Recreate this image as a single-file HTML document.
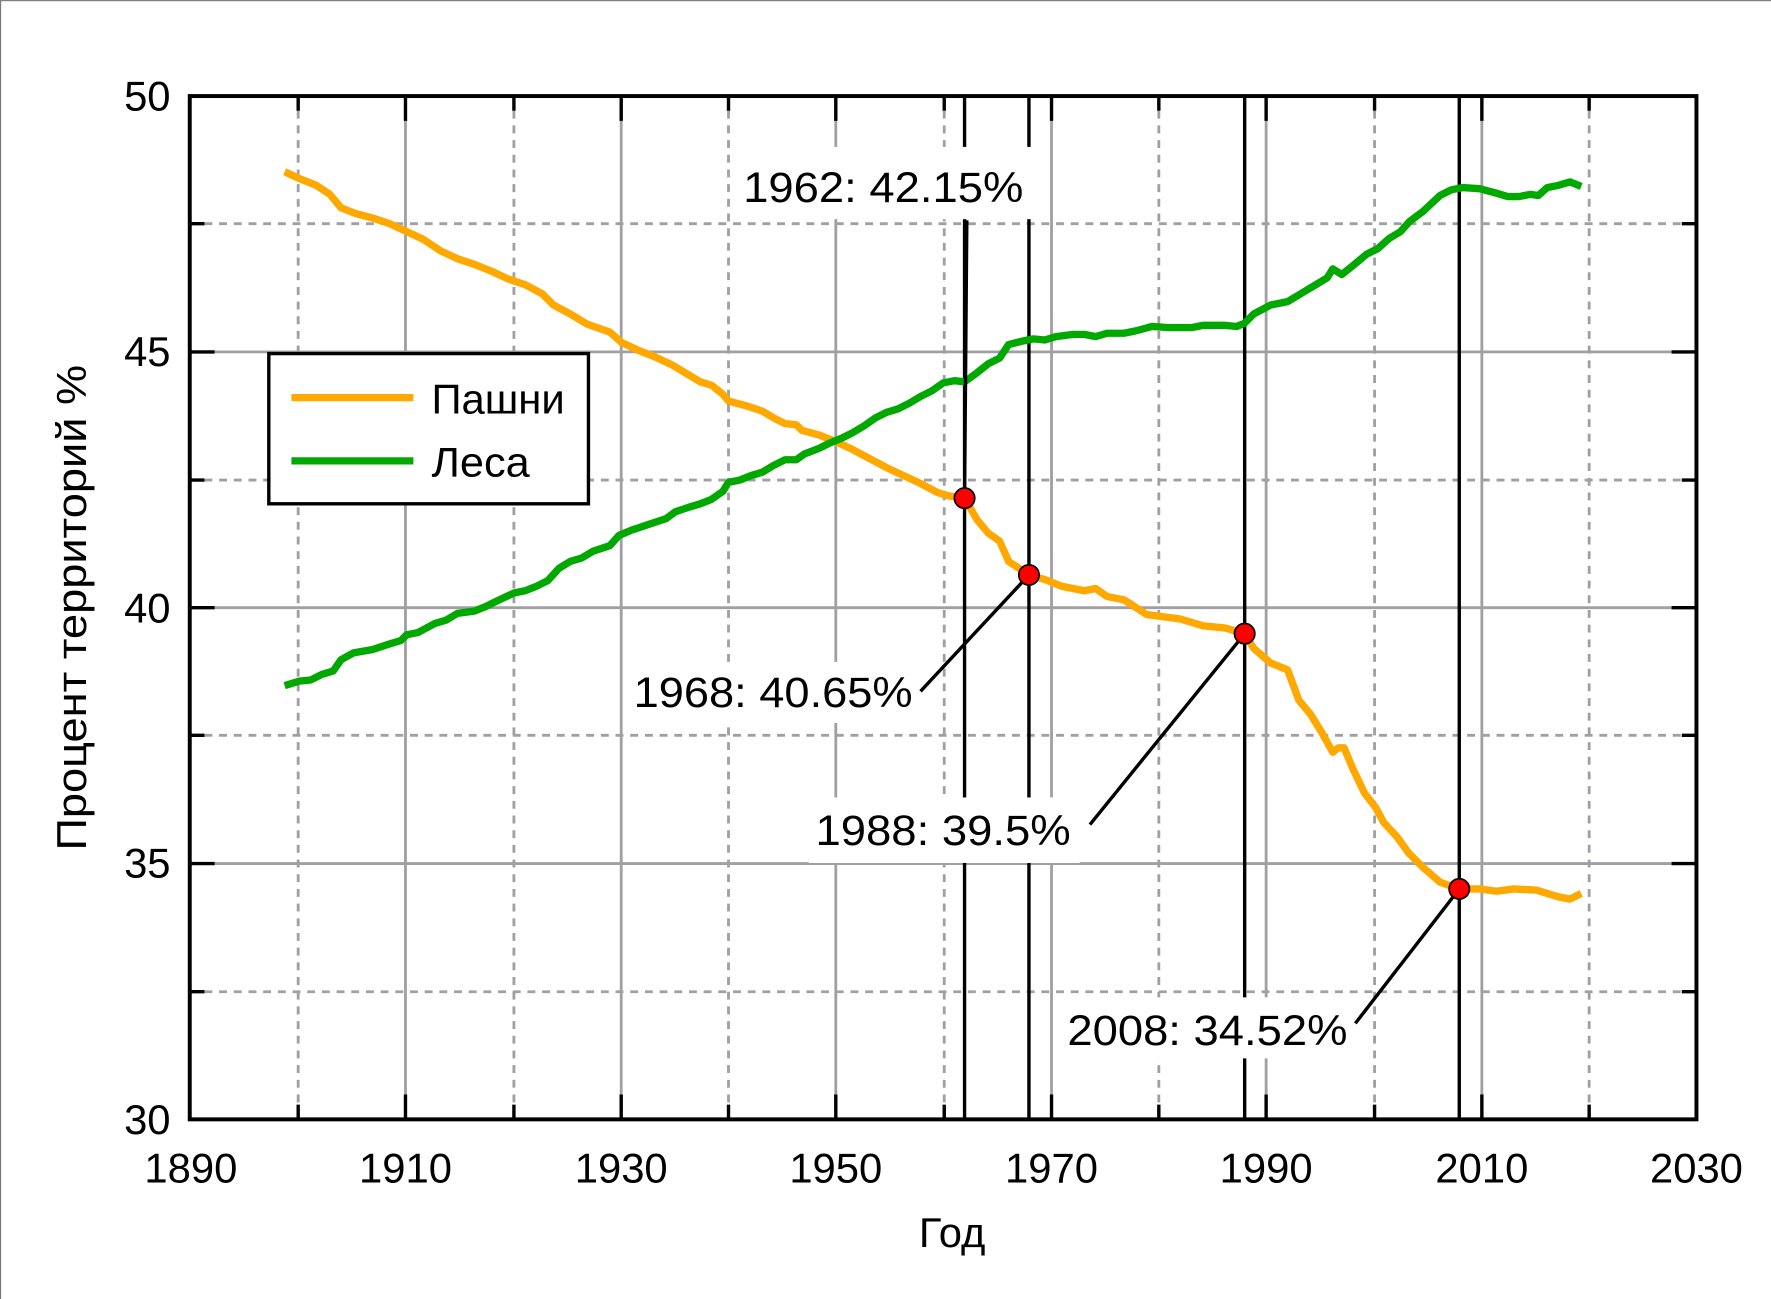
<!DOCTYPE html>
<html><head><meta charset="utf-8"><style>html,body{margin:0;padding:0;background:#fff}svg{display:block}</style></head>
<body>
<svg width="1771" height="1299" viewBox="0 0 1568 1150" xmlns="http://www.w3.org/2000/svg" font-family="Liberation Sans, DejaVu Sans, sans-serif">
<rect x="0.5" y="0.5" width="1580" height="1160" fill="#fff" stroke="#777" stroke-width="1"/>
<g stroke="#a0a0a4" stroke-width="2.5">
<line x1="359" y1="85" x2="359" y2="991"/><line x1="550" y1="85" x2="550" y2="991"/>
<line x1="740" y1="85" x2="740" y2="991"/><line x1="931" y1="85" x2="931" y2="991"/>
<line x1="1121" y1="85" x2="1121" y2="991"/><line x1="1312" y1="85" x2="1312" y2="991"/>
<line x1="168" y1="311.5" x2="1502" y2="311.5"/><line x1="168" y1="538" x2="1502" y2="538"/><line x1="168" y1="764.5" x2="1502" y2="764.5"/>
</g>
<g stroke="#a0a0a4" stroke-width="2.5" stroke-dasharray="7,6">
<line x1="264" y1="85" x2="264" y2="991"/><line x1="455" y1="85" x2="455" y2="991"/>
<line x1="645" y1="85" x2="645" y2="991"/><line x1="836" y1="85" x2="836" y2="991"/>
<line x1="1026" y1="85" x2="1026" y2="991"/><line x1="1217" y1="85" x2="1217" y2="991"/>
<line x1="1407" y1="85" x2="1407" y2="991"/>
<line x1="168" y1="198" x2="1502" y2="198"/><line x1="168" y1="425" x2="1502" y2="425"/>
<line x1="168" y1="651" x2="1502" y2="651"/><line x1="168" y1="878" x2="1502" y2="878"/>
</g>
<g stroke="#000" stroke-width="3">
<path d="M359 85v22M550 85v22M740 85v22M931 85v22M1121 85v22M1312 85v22M264 85v13M455 85v13M645 85v13M836 85v13M1026 85v13M1217 85v13M1407 85v13"/>
<path d="M359 991v-22M550 991v-22M740 991v-22M931 991v-22M1121 991v-22M1312 991v-22M264 991v-13M455 991v-13M645 991v-13M836 991v-13M1026 991v-13M1217 991v-13M1407 991v-13"/>
<path d="M168 311.5h22M168 538h22M168 764.5h22M168 198h13M168 425h13M168 651h13M168 878h13"/>
<path d="M1502 311.5h-22M1502 538h-22M1502 764.5h-22M1502 198h-13M1502 425h-13M1502 651h-13M1502 878h-13"/>
</g>
<g stroke="#000" stroke-width="3">
<line x1="854" y1="85" x2="854" y2="991"/><line x1="911" y1="85" x2="911" y2="991"/>
<line x1="1102" y1="85" x2="1102" y2="991"/><line x1="1292" y1="85" x2="1292" y2="991"/>
</g>
<polyline fill="none" stroke="#ffa800" stroke-width="6.5" stroke-linejoin="round" points="252,152 265,158 280,164 292,172 302,184 315,189 330,193 345,198 360,205 375,212 390,222 405,229 420,234 435,240 450,247 465,252 480,260 490,270 505,278 520,287 540,294 550,303 565,310 580,316 595,323 610,332 620,338 630,341 640,349 645,355 660,359 675,364 685,370 695,375 705,376 710,381 725,385 740,391 755,398 770,406 785,414 800,421 815,428 830,436 840,439 854,441 865,460 875,472 885,479 893,497 905,505 911,509 925,513 940,519 960,523 970,521 980,528 995,531 1000,534 1015,544 1030,546 1045,548 1055,551 1065,554 1085,556 1102,561 1110,574 1125,587 1140,593 1150,620 1160,632 1170,648 1180,666 1185,662 1190,662 1198,681 1208,702 1218,715 1225,728 1237,741 1247,755 1260,768 1275,781 1292,787 1310,787 1325,789 1340,787 1360,788 1380,794 1390,796 1400,791"/>
<polyline fill="none" stroke="#00a800" stroke-width="6.5" stroke-linejoin="round" points="252,607 265,603 275,602 285,597 295,594 302,584 313,578 330,575 345,570 355,567 360,562 370,560 385,552 395,549 405,543 420,541 430,537 440,532 455,525 465,523 475,519 485,514 495,503 505,497 515,494 525,488 540,483 548,474 560,469 575,464 590,459 598,453 610,449 620,446 630,442 640,435 645,427 655,425 665,421 675,418 685,412 695,407 705,407 712,402 725,397 735,392 745,388 755,383 765,377 775,370 785,365 795,362 805,357 815,351 825,346 835,339 845,337 854,338 865,330 875,322 885,317 893,305 905,302 915,300 925,301 935,298 950,296 960,296 970,298 980,295 995,295 1005,293 1020,289 1035,290 1055,290 1065,288 1085,288 1095,289 1102,286 1110,278 1125,270 1140,267 1150,261 1165,252 1175,246 1180,238 1188,243 1198,235 1210,225 1220,220 1230,211 1240,205 1248,196 1260,187 1275,173 1285,168 1295,166 1310,167 1325,171 1335,174 1345,174 1355,172 1362,173 1370,166 1380,164 1390,161 1400,165"/>
<g fill="#fff">
<rect x="652" y="130" width="262" height="64"/>
<rect x="555" y="586" width="258" height="54"/>
<rect x="716" y="706" width="240" height="58"/>
<rect x="940" y="883" width="258" height="54"/>
</g>
<g stroke="#000" stroke-width="3">
<line x1="856" y1="195" x2="854" y2="441"/>
<line x1="815" y1="612" x2="911" y2="509"/>
<line x1="965" y1="730" x2="1102" y2="561"/>
<line x1="1200" y1="906" x2="1292" y2="787"/>
</g>
<g fill="#f00" stroke="#000" stroke-width="1.5">
<circle cx="854" cy="441" r="9"/><circle cx="911" cy="509" r="9"/><circle cx="1102" cy="561" r="9"/><circle cx="1292" cy="787" r="9"/>
</g>
<g font-size="38" fill="#000">
<text x="658" y="179" textLength="248" lengthAdjust="spacingAndGlyphs">1962: 42.15%</text>
<text x="561" y="626" textLength="247" lengthAdjust="spacingAndGlyphs">1968: 40.65%</text>
<text x="722" y="748" textLength="226" lengthAdjust="spacingAndGlyphs">1988: 39.5%</text>
<text x="945" y="925" textLength="248" lengthAdjust="spacingAndGlyphs">2008: 34.52%</text>
</g>
<rect x="168" y="85" width="1334" height="906" fill="none" stroke="#000" stroke-width="3.5"/>
<rect x="238" y="313" width="283" height="133" fill="#fff" stroke="#000" stroke-width="3"/>
<line x1="258" y1="352" x2="366" y2="352" stroke="#ffa800" stroke-width="6.5"/>
<line x1="258" y1="408" x2="366" y2="408" stroke="#00a800" stroke-width="6.5"/>
<g font-size="37" fill="#000">
<text x="382" y="366" textLength="118" lengthAdjust="spacingAndGlyphs">Пашни</text>
<text x="382" y="422" textLength="87" lengthAdjust="spacingAndGlyphs">Леса</text>
</g>
<g font-size="37" fill="#000" text-anchor="end">
<text x="151" y="98">50</text><text x="151" y="324">45</text><text x="151" y="551">40</text>
<text x="151" y="777">35</text><text x="151" y="1004">30</text>
</g>
<g font-size="37" fill="#000" text-anchor="middle">
<text x="169" y="1047">1890</text><text x="359" y="1047">1910</text><text x="550" y="1047">1930</text>
<text x="740" y="1047">1950</text><text x="931" y="1047">1970</text><text x="1121" y="1047">1990</text>
<text x="1312" y="1047">2010</text><text x="1502" y="1047">2030</text>
<text x="843" y="1104">Год</text>
<text transform="translate(76,538) rotate(-90)" textLength="430" lengthAdjust="spacingAndGlyphs">Процент территорий %</text>
</g>
</svg>
</body></html>
